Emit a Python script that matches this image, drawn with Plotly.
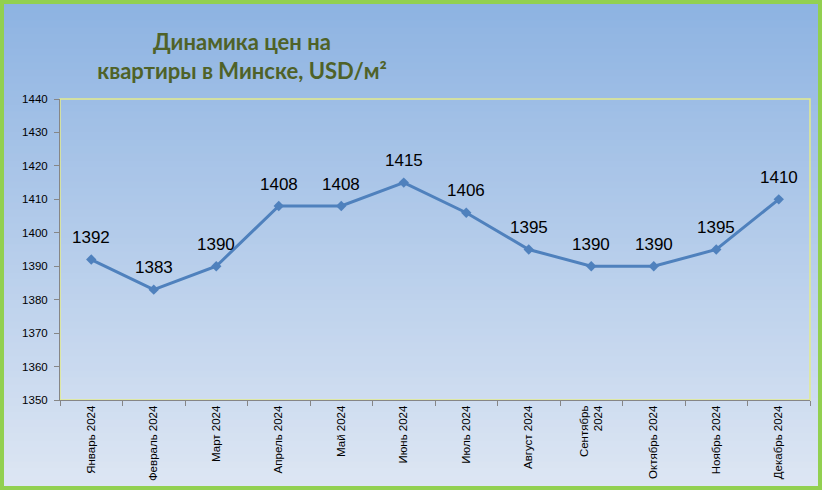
import plotly.graph_objects as go

# data
months = ["Январь 2024", "Февраль 2024", "Март 2024", "Апрель 2024", "Май 2024", "Июнь 2024",
          "Июль 2024", "Август 2024", "Сентябрь<br>2024", "Октябрь 2024", "Ноябрь 2024", "Декабрь 2024"]
prices = [1392, 1383, 1390, 1408, 1408, 1415, 1406, 1395, 1390, 1390, 1395, 1410]
y_ticks = [1350, 1360, 1370, 1380, 1390, 1400, 1410, 1420, 1430, 1440]

W, H = 822, 490
ml, mr, mt, mb = 60, 12, 99, 90
pw = W - ml - mr
ph = H - mt - mb

fig = go.Figure()

fig.add_trace(go.Scatter(
    x=months, y=prices, mode="lines+markers",
    line=dict(color="#4F81BD", width=3),
    marker=dict(symbol="diamond", size=8, color="#4F81BD"),
    hoverinfo="x+y", showlegend=False,
))

# data labels
for m, p in zip(months, prices):
    fig.add_annotation(x=m, y=p, text=str(p), showarrow=False, yshift=22,
                       font=dict(family="Liberation Sans", size=17, color="#000000"))

# gradient background as horizontal bands
shapes = []
n = 70
top_c = (141, 179, 226)
bot_c = (221, 230, 243)
y0p = -mb / ph
y1p = 1 + mt / ph
for i in range(n):
    t = i / (n - 1)
    c = tuple(int(round(top_c[k] + (bot_c[k] - top_c[k]) * t)) for k in range(3))
    ya = y1p - (y1p - y0p) * i / n
    yb = y1p - (y1p - y0p) * (i + 1) / n
    shapes.append(dict(type="rect", xref="paper", yref="paper",
                       x0=-ml / pw - 0.01, x1=1 + mr / pw + 0.01,
                       y0=yb - 0.002, y1=ya + 0.002,
                       fillcolor="rgb(%d,%d,%d)" % c, line=dict(width=0), layer="below"))

# plot area border (yellowish top/right)
shapes.append(dict(type="rect", xref="paper", yref="paper", x0=0, x1=1, y0=0, y1=1,
                   line=dict(color="#E4EC8C", width=1.5), fillcolor="rgba(0,0,0,0)", layer="below"))
# outer green frame
shapes.append(dict(type="rect", xref="paper", yref="paper",
                   x0=-(ml - 2) / pw, x1=1 + (mr - 2) / pw,
                   y0=-(mb - 2) / ph, y1=1 + (mt - 2) / ph,
                   line=dict(color="#92D050", width=4), fillcolor="rgba(0,0,0,0)", layer="above"))

fig.update_layout(
    width=W, height=H,
    margin=dict(l=ml, r=mr, t=mt, b=mb),
    paper_bgcolor="#B8CDEA",
    plot_bgcolor="rgba(0,0,0,0)",
    shapes=shapes,
    title=dict(text="Динамика цен на<br>квартиры в Минске, USD/м²",
               x=242 / W, xanchor="center", y=1 - 50 / H, yanchor="top",
               font=dict(family="Lato", size=22, color="#4F6228", weight="bold")),
    xaxis=dict(type="category", range=[-0.5, len(months) - 0.5],
               tickson="boundaries", ticks="outside", ticklen=5,
               tickcolor="#868686", showline=True, linecolor="#868686", linewidth=1,
               showgrid=False, tickangle=-90, automargin=False,
               tickfont=dict(family="Liberation Sans", size=11.5, color="#000000")),
    yaxis=dict(range=[1350, 1440], tickvals=y_ticks, ticks="outside", ticklen=5,
               tickcolor="#868686", showline=True, linecolor="#868686", linewidth=1,
               showgrid=False, zeroline=False, automargin=False, ticklabelstandoff=4,
               tickfont=dict(family="Liberation Sans", size=11.5, color="#000000")),
)

fig.write_html("out.html", config={"displayModeBar": False},
               post_script="document.body.style.margin='0';document.body.style.overflow='hidden';")
